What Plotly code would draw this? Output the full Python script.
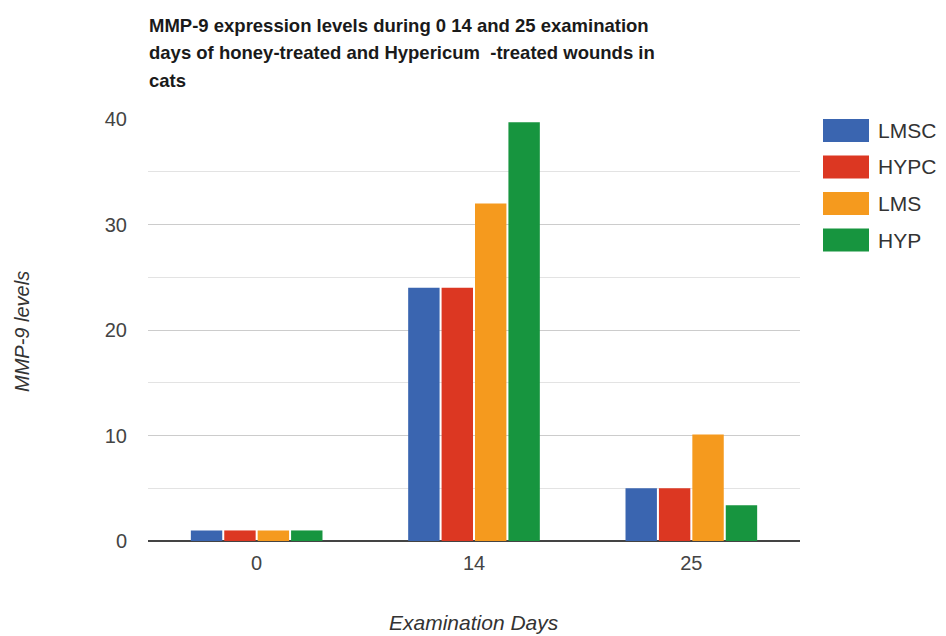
import plotly.graph_objects as go

days = ["0", "14", "25"]
series_names = ["LMSC", "HYPC", "LMS", "HYP"]
lmsc = [1, 24, 5]
hypc = [1, 24, 5]
lms = [1, 32, 10.1]
hyp = [1, 39.7, 3.4]
colors = ["#3a65b0", "#dc3722", "#f59a1e", "#17953f"]
y_ticks = [0, 10, 20, 30, 40]
title_lines = ["MMP-9 expression levels during 0 14 and 25 examination",
               "days of honey-treated and Hypericum  -treated wounds in",
               "cats"]

values = [lmsc, hypc, lms, hyp]

# page body has an 8px margin: figure is offset by 8px from the window corner
OFF = 8
W, H = 946 - 2 * OFF, 636 - OFF
L, T = 148 - OFF, 119 - OFF
R = W - (800 - OFF)
B = H - (541 - OFF)
pw, ph = W - L - R, H - T - B


def px(rx):
    return (rx - OFF - L) / pw


def py(ry):
    return (H - B - (ry - OFF)) / ph


fig = go.Figure()
for name, vals, col in zip(series_names, values, colors):
    fig.add_trace(go.Bar(x=days, y=vals, name=name, marker=dict(color=col, line=dict(width=0)),
                         showlegend=False))

FONT = "Liberation Sans, Arial, sans-serif"

shapes = []
annotations = []
leg_top = 119
step = 36.5
for i, (name, col) in enumerate(zip(series_names, colors)):
    y0 = leg_top + i * step
    y1 = y0 + 23
    shapes.append(dict(type="rect", xref="paper", yref="paper", x0=px(823), x1=px(869),
                       y0=py(y1), y1=py(y0), fillcolor=col, line=dict(width=0)))
    annotations.append(dict(text=name, xref="paper", yref="paper", x=px(876),
                            y=py((y0 + y1) / 2), xanchor="left", yanchor="middle",
                            showarrow=False, font=dict(family=FONT, size=21, color="#333333")))

for i, line in enumerate(title_lines):
    annotations.append(dict(text="<b>" + line + "</b>", xref="paper", yref="paper",
                            x=px(147), y=py(25 + i * 27.5), xanchor="left", yanchor="middle",
                            showarrow=False,
                            font=dict(family=FONT, size=18.5, color="#1a1a1a")))

annotations.append(dict(text="<i>MMP-9 levels</i>", xref="paper", yref="paper",
                        x=px(22), y=py(332), textangle=-90,
                        xanchor="center", yanchor="middle", showarrow=False,
                        font=dict(family=FONT, size=20, color="#333333")))
annotations.append(dict(text="<i>Examination Days</i>", xref="paper", yref="paper",
                        x=px(474), y=py(622),
                        xanchor="center", yanchor="middle", showarrow=False,
                        font=dict(family=FONT, size=21, color="#333333")))

fig.update_layout(
    width=W, height=H,
    margin=dict(l=L, r=R, t=T, b=B),
    paper_bgcolor="white", plot_bgcolor="white",
    barmode="group", bargap=0.385, bargroupgap=0.06,
    xaxis=dict(type="category", showgrid=False, showline=False, ticks="",
               tickfont=dict(family=FONT, size=20, color="#444444"), ticklabelstandoff=8),
    yaxis=dict(range=[0, 40], tickvals=y_ticks, showgrid=True, gridcolor="#cccccc", gridwidth=1,
               minor=dict(dtick=5, showgrid=True, gridcolor="#e3e3e3", gridwidth=1),
               zeroline=True, zerolinecolor="#444444", zerolinewidth=2,
               showline=False, ticks="", ticklabelstandoff=20,
               tickfont=dict(family=FONT, size=20, color="#444444")),
    shapes=shapes, annotations=annotations,
)

fig.write_html("out.html")
